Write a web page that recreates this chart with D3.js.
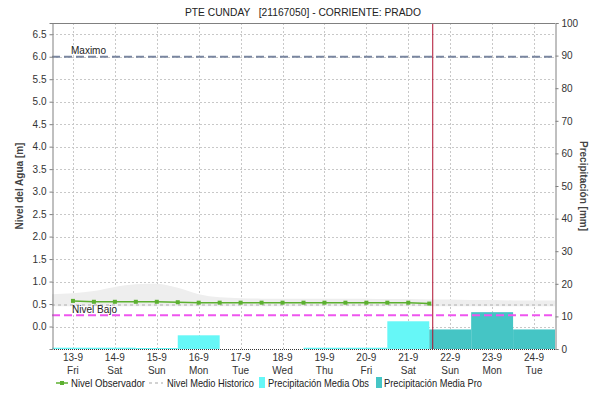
<!DOCTYPE html>
<html>
<head>
<meta charset="utf-8">
<script src="https://cdn.jsdelivr.net/npm/d3@7"></script>
<style>
  html, body { margin: 0; padding: 0; background: #fff; }
  svg { display: block; font-family: "Liberation Sans", Arial, sans-serif; }
</style>
</head>
<body>
<svg id="chart" width="591" height="404"></svg>
<script>
// Station and series
const title = "PTE CUNDAY   [21167050] - CORRIENTE: PRADO";
const dayLabels = ["13-9", "14-9", "15-9", "16-9", "17-9", "18-9", "19-9", "20-9", "21-9", "22-9", "23-9", "24-9"];
const weekdayLabels = ["Fri", "Sat", "Sun", "Mon", "Tue", "Wed", "Thu", "Fri", "Sat", "Sun", "Mon", "Tue"];
const levelTicks = [0.0, 0.5, 1.0, 1.5, 2.0, 2.5, 3.0, 3.5, 4.0, 4.5, 5.0, 5.5, 6.0, 6.5];
const precipTicks = [0, 10, 20, 30, 40, 50, 60, 70, 80, 90, 100];
const legendLabels = ["Nivel Observador", "Nivel Medio Historico", "Precipitación Media Obs", "Precipitación Media Pro"];

// Observed level, every 12 h starting 13-9 12:00 (m)
const observedLevel = [0.57, 0.55, 0.55, 0.55, 0.55, 0.54, 0.53, 0.53, 0.53, 0.53, 0.53, 0.53, 0.53, 0.53, 0.53, 0.53, 0.53, 0.51];
// Historic mean level, every 12 h starting 13-9 00:00 (m)
const historicMean = [0.48, 0.48, 0.48, 0.48, 0.48, 0.48, 0.48, 0.48, 0.48, 0.48, 0.48, 0.48, 0.48, 0.48, 0.48, 0.48, 0.48, 0.48, 0.48, 0.48, 0.48, 0.48, 0.48, 0.48, 0.48];
// Historic envelope, every 12 h starting 13-9 00:00 (m)
const historicUpper = [0.72, 0.74, 0.79, 0.88, 0.94, 0.95, 0.86, 0.72, 0.65, 0.63, 0.62, 0.62, 0.62, 0.62, 0.62, 0.62, 0.61, 0.61, 0.6, 0.6, 0.59, 0.59, 0.58, 0.58, 0.58];
const historicLower = [0.45, 0.45, 0.45, 0.45, 0.45, 0.45, 0.45, 0.45, 0.45, 0.45, 0.45, 0.45, 0.45, 0.45, 0.45, 0.45, 0.45, 0.45, 0.45, 0.45, 0.45, 0.45, 0.45, 0.45, 0.45];
// Daily precipitation (mm)
const precipObs = [0.4, 0.4, 0.3, 4.2, 0, 0, 0.4, 0.4, 8.5];      // 13-9 .. 21-9
const precipPro = [6.0, 11.3, 6.0];                              // 22-9 .. 24-9
// Reference levels (m)
const nivelMaximo = 6.0;
const nivelBajo = 0.25;

const svg = d3.select("#chart");
const M = { left: 52, right: 555, top: 23, bottom: 349 };

const t0 = new Date(2019, 8, 13);
const dayAt = (d, h = 0) => new Date(2019, 8, 13 + d, h);
const x = d3.scaleTime().domain([t0, dayAt(12)]).range([M.left, M.right]);
const yL = d3.scaleLinear().domain([-0.5, 6.75]).range([M.bottom, M.top]);
const yR = d3.scaleLinear().domain([0, 100]).range([M.bottom, M.top]);
const nowTime = dayAt(9, 2);

svg.append("defs").append("clipPath").attr("id", "plot")
  .append("rect").attr("x", M.left).attr("y", M.top)
  .attr("width", M.right - M.left).attr("height", M.bottom - M.top);

// Title
svg.append("text").attr("x", 303).attr("y", 16).attr("text-anchor", "middle")
  .attr("font-size", 10.5).attr("fill", "#222")
  .style("white-space", "pre")
  .attr("textLength", 236).attr("lengthAdjust", "spacingAndGlyphs")
  .text(title);

// Grid
const grid = svg.append("g").attr("stroke", "#c8c8c8").attr("stroke-dasharray", "2,2").attr("stroke-width", 1);
levelTicks.forEach(v => {
  const yy = Math.round(yL(v)) + 0.5;
  grid.append("line").attr("x1", M.left).attr("x2", M.right).attr("y1", yy).attr("y2", yy);
});
dayLabels.forEach((d, i) => {
  const xx = Math.round(x(dayAt(i, 12))) + 0.5;
  grid.append("line").attr("x1", xx).attr("x2", xx).attr("y1", M.top).attr("y2", M.bottom);
});

const plot = svg.append("g").attr("clip-path", "url(#plot)");

// Historic envelope
const halfDays = historicUpper.map((_, i) => dayAt(0, i * 12));
plot.append("path")
  .datum(historicUpper.map((u, i) => ({ t: halfDays[i], u, l: historicLower[i] })))
  .attr("fill", "#eeeeee")
  .attr("d", d3.area().x(d => x(d.t)).y0(d => yL(d.l)).y1(d => yL(d.u)).curve(d3.curveMonotoneX));

// Historic mean
plot.append("path")
  .datum(historicMean.map((v, i) => ({ t: halfDays[i], v })))
  .attr("fill", "none").attr("stroke", "#c4c4c4").attr("stroke-width", 1.5)
  .attr("stroke-dasharray", "3,3")
  .attr("d", d3.line().x(d => x(d.t)).y(d => yL(d.v)));

// Precipitation bars
plot.selectAll("rect.obs").data(precipObs).join("rect").attr("class", "obs")
  .attr("x", (d, i) => x(dayAt(i)))
  .attr("width", (d, i) => x(dayAt(i + 1)) - x(dayAt(i)))
  .attr("y", d => yR(d)).attr("height", d => yR(0) - yR(d))
  .attr("fill", "#66f7f7");
plot.selectAll("rect.pro").data(precipPro).join("rect").attr("class", "pro")
  .attr("x", (d, i) => x(dayAt(i + 9)))
  .attr("width", (d, i) => x(dayAt(i + 10)) - x(dayAt(i + 9)))
  .attr("y", d => yR(d)).attr("height", d => yR(0) - yR(d))
  .attr("fill", "#45c5c5");

// Reference lines
plot.append("line").attr("x1", M.left).attr("x2", M.right)
  .attr("y1", yL(nivelMaximo)).attr("y2", yL(nivelMaximo))
  .attr("stroke", "#7a86a0").attr("stroke-width", 2).attr("stroke-dasharray", "8,4");
plot.append("line").attr("x1", M.left).attr("x2", M.right)
  .attr("y1", yL(nivelBajo)).attr("y2", yL(nivelBajo))
  .attr("stroke", "#ee55ee").attr("stroke-width", 2).attr("stroke-dasharray", "8,4");
svg.append("text").attr("x", 71).attr("y", yL(nivelMaximo) - 3)
  .attr("font-size", 10).attr("fill", "#222").text("Maximo");
svg.append("text").attr("x", 72).attr("y", yL(nivelBajo) - 2)
  .attr("font-size", 10).attr("fill", "#222").text("Nivel Bajo");

// Observed level
const obsPts = observedLevel.map((v, i) => ({ t: dayAt(0, 12 + i * 12), v }));
plot.append("path").datum(obsPts)
  .attr("fill", "none").attr("stroke", "#5cb030").attr("stroke-width", 1.5)
  .attr("d", d3.line().x(d => x(d.t)).y(d => yL(d.v)));
plot.selectAll("rect.mk").data(obsPts).join("rect").attr("class", "mk")
  .attr("x", d => x(d.t) - 2).attr("y", d => yL(d.v) - 2)
  .attr("width", 4).attr("height", 4).attr("fill", "#5cb030");

// Current time marker
svg.append("line").attr("x1", x(nowTime)).attr("x2", x(nowTime))
  .attr("y1", M.top).attr("y2", M.bottom)
  .attr("stroke", "#b01030").attr("stroke-width", 1);

// Frame
svg.append("line").attr("x1", M.left).attr("x2", M.right).attr("y1", M.top + 0.5).attr("y2", M.top + 0.5)
  .attr("stroke", "#808080");
svg.append("line").attr("x1", M.left).attr("x2", M.right).attr("y1", M.bottom + 0.5).attr("y2", M.bottom + 0.5)
  .attr("stroke", "#333").attr("stroke-dasharray", "1,1");

// Axes
const axL = svg.append("g").attr("transform", `translate(${M.left + 0.5},0)`)
  .call(d3.axisLeft(yL).tickValues(levelTicks).tickFormat(d3.format(".1f")).tickSize(3).tickPadding(3));
const axR = svg.append("g").attr("transform", `translate(${M.right + 0.5},0)`)
  .call(d3.axisRight(yR).tickValues(precipTicks).tickSize(3).tickPadding(3));
[axL, axR].forEach(a => {
  a.select(".domain").attr("stroke", "#808080");
  a.selectAll(".tick line").attr("stroke", "#808080");
  a.selectAll(".tick text").attr("fill", "#333").attr("font-size", 10)
    .attr("font-family", "Liberation Sans, Arial, sans-serif");
});

// Day labels
const xl = svg.append("g").attr("font-size", 10).attr("fill", "#333").attr("text-anchor", "middle");
dayLabels.forEach((d, i) => {
  const xx = x(dayAt(i, 12));
  xl.append("text").attr("x", xx).attr("y", 361).text(d);
  xl.append("text").attr("x", xx).attr("y", 374).text(weekdayLabels[i]);
});

// Axis titles
svg.append("text").attr("transform", "translate(23,186) rotate(-90)").attr("text-anchor", "middle")
  .attr("font-size", 10).attr("font-weight", "bold").attr("fill", "#444").text("Nivel del Agua [m]");
svg.append("text").attr("transform", "translate(580,186) rotate(90)").attr("text-anchor", "middle")
  .attr("font-size", 10).attr("font-weight", "bold").attr("fill", "#444").text("Precipitación [mm]");

// Legend
const lg = svg.append("g").attr("font-size", 10.5).attr("fill", "#222");
const lgText = (xx, w, s) => lg.append("text").attr("x", xx).attr("y", 387)
  .attr("textLength", w).attr("lengthAdjust", "spacingAndGlyphs").text(s);
lg.append("line").attr("x1", 56).attr("x2", 68).attr("y1", 383).attr("y2", 383).attr("stroke", "#5cb030").attr("stroke-width", 1.5);
lg.append("rect").attr("x", 60).attr("y", 381).attr("width", 4).attr("height", 4).attr("fill", "#5cb030");
lgText(71, 74, legendLabels[0]);
lg.append("line").attr("x1", 149).attr("x2", 163).attr("y1", 383).attr("y2", 383).attr("stroke", "#c4c4c4").attr("stroke-width", 1.5).attr("stroke-dasharray", "3,3");
lgText(167, 87, legendLabels[1]);
lg.append("rect").attr("x", 259).attr("y", 377).attr("width", 6).attr("height", 11).attr("fill", "#66f7f7");
lgText(268, 101, legendLabels[2]);
lg.append("rect").attr("x", 376).attr("y", 377).attr("width", 6).attr("height", 11).attr("fill", "#45c5c5");
lgText(384, 98, legendLabels[3]);
</script>
</body>
</html>
